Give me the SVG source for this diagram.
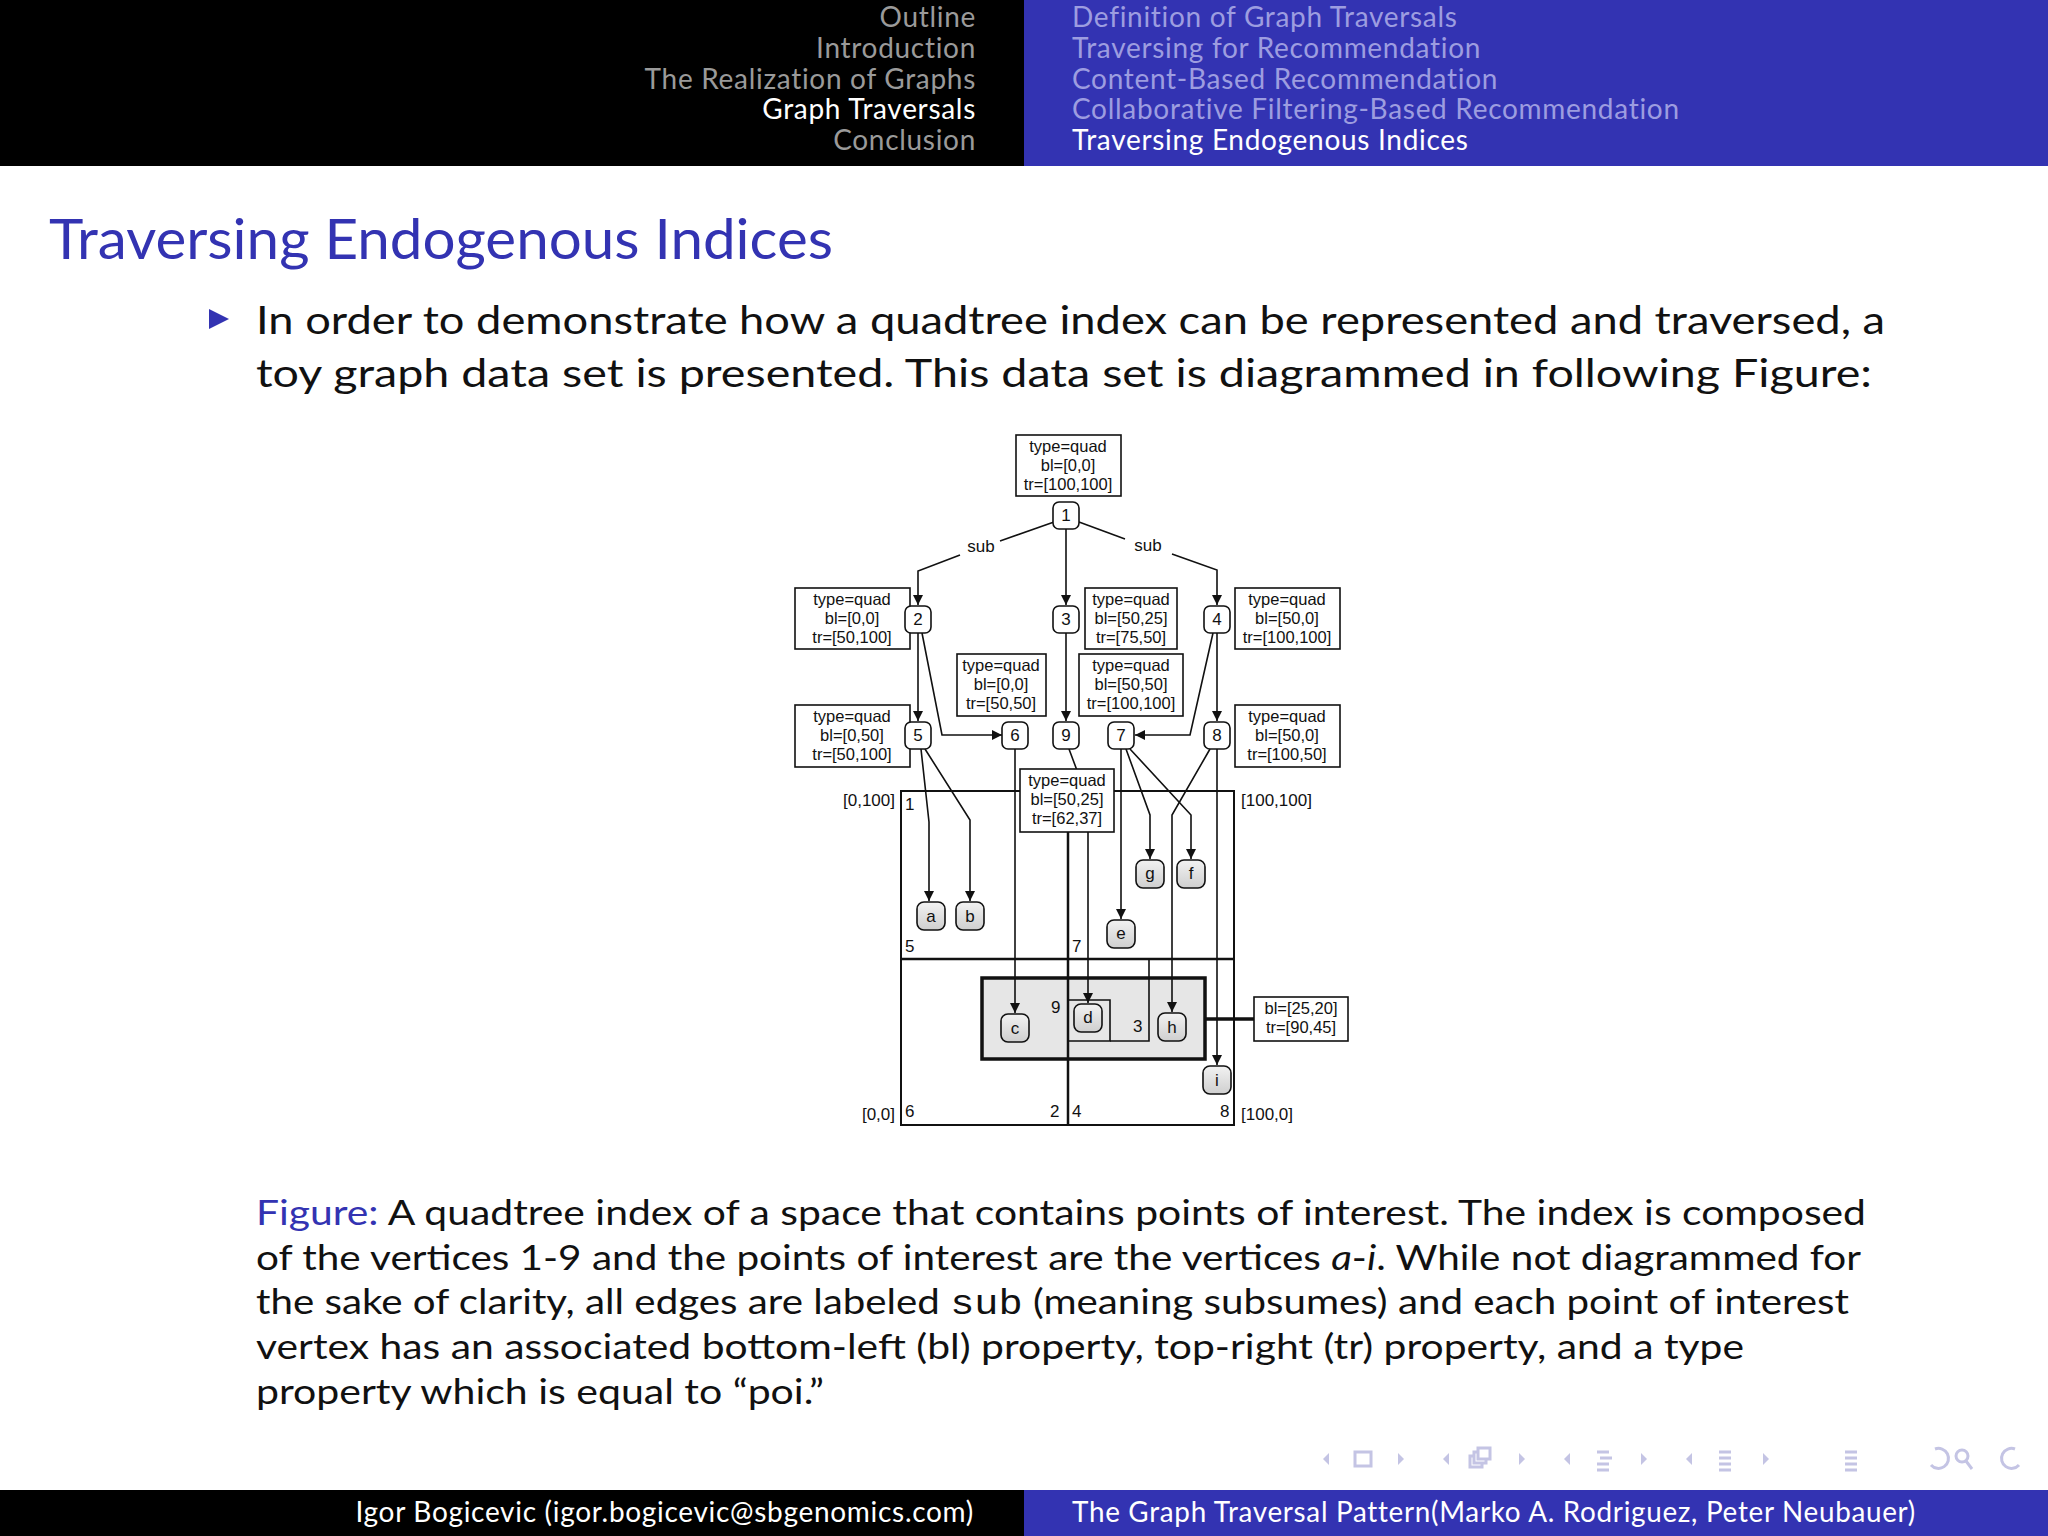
<svg xmlns="http://www.w3.org/2000/svg" width="2048" height="1536" viewBox="0 0 2048 1536">
<style>
.hd{font-family:"Lato","Liberation Sans",sans-serif;font-size:28px;letter-spacing:0.7px}
.t{font-family:"Liberation Sans",Arial,sans-serif;font-size:16.5px;text-anchor:middle;fill:#111}
.s{font-family:"Liberation Sans",Arial,sans-serif;font-size:17px;fill:#111}
.n{font-family:"Liberation Sans",Arial,sans-serif;font-size:17px;text-anchor:middle;fill:#111}
.box{fill:#fff;stroke:#111;stroke-width:1.6}
.nd{fill:#fff;stroke:#111;stroke-width:1.6}
.lf{fill:url(#g);stroke:#111;stroke-width:1.6}
.e{fill:none;stroke:#111;stroke-width:1.6}
.ea{fill:none;stroke:#111;stroke-width:1.6;marker-end:url(#ar)}
.body{font-family:"Lato","Liberation Sans",sans-serif;font-size:39px;fill:#111}
.cap{font-family:"Lato","Liberation Sans",sans-serif;font-size:35px;fill:#111}
.nav{fill:none;stroke:#c4c4e4;stroke-width:3}
</style>
<defs>
<marker id="ar" viewBox="0 0 10 10" refX="10" refY="5" markerWidth="10" markerHeight="10" markerUnits="userSpaceOnUse" orient="auto"><path d="M0,0 L10,5 L0,10 z" fill="#111"/></marker>
<linearGradient id="g" x1="0" y1="0" x2="0" y2="1"><stop offset="0" stop-color="#f2f2f2"/><stop offset="1" stop-color="#cfcfcf"/></linearGradient>
</defs>
<rect width="2048" height="1536" fill="#fff"/>
<!-- header -->
<rect x="0" y="0" width="1024" height="166" fill="#000"/>
<rect x="1024" y="0" width="1024" height="166" fill="#3333b2"/>
<g class="hd" text-anchor="end">
<text x="976" y="27" fill="#9a9a9a">Outline</text>
<text x="976" y="58" fill="#9a9a9a">Introduction</text>
<text x="976" y="89" fill="#9a9a9a">The Realization of Graphs</text>
<text x="976" y="119" fill="#fff">Graph Traversals</text>
<text x="976" y="150" fill="#9a9a9a">Conclusion</text>
</g>
<g class="hd">
<text x="1072" y="27" fill="#9d9de0">Definition of Graph Traversals</text>
<text x="1072" y="58" fill="#9d9de0">Traversing for Recommendation</text>
<text x="1072" y="89" fill="#9d9de0">Content-Based Recommendation</text>
<text x="1072" y="119" fill="#9d9de0">Collaborative Filtering-Based Recommendation</text>
<text x="1072" y="150" fill="#fff">Traversing Endogenous Indices</text>
</g>
<text x="49" y="259" font-family="Lato,'Liberation Sans',sans-serif" font-size="57" fill="#3333b2" textLength="784" lengthAdjust="spacingAndGlyphs">Traversing Endogenous Indices</text>
<path d="M209,309 L229,319 L209,329 z" fill="#3333b2"/>
<text class="body" x="256" y="334" textLength="1629" lengthAdjust="spacingAndGlyphs">In order to demonstrate how a quadtree index can be represented and traversed, a</text>
<text class="body" x="256" y="387" textLength="1616" lengthAdjust="spacingAndGlyphs">toy graph data set is presented.  This data set is diagrammed in following Figure:</text>

<!-- quadtree space -->
<g id="space">
<rect x="982" y="978" width="223" height="81" fill="#e6e6e6" stroke="#111" stroke-width="3.5"/>
<rect x="901" y="791" width="333" height="334" fill="none" stroke="#111" stroke-width="2"/>
<line x1="901" y1="959" x2="1234" y2="959" stroke="#111" stroke-width="2.5"/>
<line x1="1068" y1="800" x2="1068" y2="1125" stroke="#111" stroke-width="2.5"/>
<polyline points="1068,1000 1110,1000 1110,1041 1068,1041" fill="none" stroke="#111" stroke-width="1.6"/>
<polyline points="1149,959 1149,1041 1110,1041" fill="none" stroke="#111" stroke-width="1.6"/>
<line x1="1205" y1="1019" x2="1254" y2="1019" stroke="#111" stroke-width="3.5"/>
<text class="s" x="905" y="810">1</text>
<text class="s" x="905" y="952">5</text>
<text class="s" x="1072" y="952">7</text>
<text class="s" x="905" y="1117">6</text>
<text class="s" x="1050" y="1117">2</text>
<text class="s" x="1072" y="1117">4</text>
<text class="s" x="1220" y="1117">8</text>
<text class="s" x="1051" y="1013">9</text>
<text class="s" x="1133" y="1032">3</text>
<text class="s" x="895" y="806" text-anchor="end">[0,100]</text>
<text class="s" x="1241" y="806">[100,100]</text>
<text class="s" x="895" y="1120" text-anchor="end">[0,0]</text>
<text class="s" x="1241" y="1120">[100,0]</text>
</g>

<g id="connectors">
<polyline class="e" points="1054,522 1000,541"/>
<polyline class="ea" points="960,555 918,571 918,605"/>
<line class="ea" x1="1066" y1="528" x2="1066" y2="605"/>
<polyline class="e" points="1079,522 1125,539"/>
<polyline class="ea" points="1172,554 1217,570 1217,605"/>
<line class="ea" x1="918" y1="633" x2="918" y2="721"/>
<polyline class="ea" points="922,633 942,735 1002,735"/>
<polyline class="ea" points="1213,633 1190,735 1135,735"/>
<line class="ea" x1="1066" y1="633" x2="1066" y2="721"/>
<line class="ea" x1="1217" y1="633" x2="1217" y2="721"/>
<polyline class="ea" points="921,749 929,822 929,901"/>
<polyline class="ea" points="925,749 970,820 970,901"/>
<line class="ea" x1="1015" y1="749" x2="1015" y2="1013"/>
<polyline class="ea" points="1069,749 1088,800 1088,1003"/>
<line class="ea" x1="1121" y1="749" x2="1121" y2="919"/>
<polyline class="ea" points="1126,749 1150,815 1150,859"/>
<polyline class="ea" points="1130,749 1191,815 1191,859"/>
<polyline class="ea" points="1210,749 1172,815 1172,1012"/>
<line class="ea" x1="1217" y1="749" x2="1217" y2="1065"/>
<text class="s" x="981" y="552" text-anchor="middle">sub</text>
<text class="s" x="1148" y="551" text-anchor="middle">sub</text>
</g>

<g id="label-top"><rect class="box" x="1016" y="435" width="105" height="61"/><text class="t" x="1068" y="452">type=quad</text><text class="t" x="1068" y="471">bl=[0,0]</text><text class="t" x="1068" y="490">tr=[100,100]</text></g>
<g id="label-2"><rect class="box" x="795" y="588" width="115" height="61"/><text class="t" x="852" y="605">type=quad</text><text class="t" x="852" y="624">bl=[0,0]</text><text class="t" x="852" y="643">tr=[50,100]</text></g>
<g id="label-3"><rect class="box" x="1085" y="588" width="92" height="61"/><text class="t" x="1131" y="605">type=quad</text><text class="t" x="1131" y="624">bl=[50,25]</text><text class="t" x="1131" y="643">tr=[75,50]</text></g>
<g id="label-4"><rect class="box" x="1235" y="588" width="105" height="61"/><text class="t" x="1287" y="605">type=quad</text><text class="t" x="1287" y="624">bl=[50,0]</text><text class="t" x="1287" y="643">tr=[100,100]</text></g>
<g id="label-6"><rect class="box" x="957" y="654" width="89" height="62"/><text class="t" x="1001" y="671">type=quad</text><text class="t" x="1001" y="690">bl=[0,0]</text><text class="t" x="1001" y="709">tr=[50,50]</text></g>
<g id="label-7"><rect class="box" x="1079" y="654" width="104" height="62"/><text class="t" x="1131" y="671">type=quad</text><text class="t" x="1131" y="690">bl=[50,50]</text><text class="t" x="1131" y="709">tr=[100,100]</text></g>
<g id="label-5"><rect class="box" x="795" y="705" width="115" height="62"/><text class="t" x="852" y="722">type=quad</text><text class="t" x="852" y="741">bl=[0,50]</text><text class="t" x="852" y="760">tr=[50,100]</text></g>
<g id="label-8"><rect class="box" x="1235" y="705" width="105" height="62"/><text class="t" x="1287" y="722">type=quad</text><text class="t" x="1287" y="741">bl=[50,0]</text><text class="t" x="1287" y="760">tr=[100,50]</text></g>
<g id="label-9"><rect class="box" x="1020" y="769" width="94" height="63"/><text class="t" x="1067" y="786">type=quad</text><text class="t" x="1067" y="805">bl=[50,25]</text><text class="t" x="1067" y="824">tr=[62,37]</text></g>
<g id="label-gray"><rect class="box" x="1254" y="997" width="94" height="44"/><text class="t" x="1301" y="1014">bl=[25,20]</text><text class="t" x="1301" y="1033">tr=[90,45]</text></g>

<g id="n1"><rect class="nd" x="1053" y="502" width="26" height="27" rx="6"/><text class="n" x="1066" y="521">1</text></g>
<g id="n2"><rect class="nd" x="905" y="606" width="26" height="27" rx="6"/><text class="n" x="918" y="625">2</text></g>
<g id="n3"><rect class="nd" x="1053" y="606" width="26" height="27" rx="6"/><text class="n" x="1066" y="625">3</text></g>
<g id="n4"><rect class="nd" x="1204" y="606" width="26" height="27" rx="6"/><text class="n" x="1217" y="625">4</text></g>
<g id="n5"><rect class="nd" x="905" y="722" width="26" height="27" rx="6"/><text class="n" x="918" y="741">5</text></g>
<g id="n6"><rect class="nd" x="1002" y="722" width="26" height="27" rx="6"/><text class="n" x="1015" y="741">6</text></g>
<g id="n9"><rect class="nd" x="1053" y="722" width="26" height="27" rx="6"/><text class="n" x="1066" y="741">9</text></g>
<g id="n7"><rect class="nd" x="1108" y="722" width="26" height="27" rx="6"/><text class="n" x="1121" y="741">7</text></g>
<g id="n8"><rect class="nd" x="1204" y="722" width="26" height="27" rx="6"/><text class="n" x="1217" y="741">8</text></g>

<g id="na"><rect class="lf" x="917" y="902" width="28" height="28" rx="7"/><text class="n" x="931" y="922">a</text></g>
<g id="nb"><rect class="lf" x="956" y="902" width="28" height="28" rx="7"/><text class="n" x="970" y="922">b</text></g>
<g id="ng"><rect class="lf" x="1136" y="860" width="28" height="28" rx="7"/><text class="n" x="1150" y="879">g</text></g>
<g id="nf"><rect class="lf" x="1177" y="860" width="28" height="28" rx="7"/><text class="n" x="1191" y="879">f</text></g>
<g id="ne"><rect class="lf" x="1107" y="920" width="28" height="28" rx="7"/><text class="n" x="1121" y="939">e</text></g>
<g id="nc"><rect class="lf" x="1001" y="1014" width="28" height="28" rx="7"/><text class="n" x="1015" y="1034">c</text></g>
<g id="nd"><rect class="lf" x="1074" y="1004" width="28" height="28" rx="7"/><text class="n" x="1088" y="1023">d</text></g>
<g id="nh"><rect class="lf" x="1158" y="1013" width="28" height="28" rx="7"/><text class="n" x="1172" y="1033">h</text></g>
<g id="ni"><rect class="lf" x="1203" y="1066" width="28" height="28" rx="7"/><text class="n" x="1217" y="1086">i</text></g>

<!-- caption -->
<text class="cap" x="256" y="1225" textLength="1610" lengthAdjust="spacingAndGlyphs"><tspan fill="#3333b2">Figure:</tspan> A quadtree index of a space that contains points of interest.  The index is composed</text>
<text class="cap" x="256" y="1270" textLength="1605" lengthAdjust="spacingAndGlyphs">of the vertices 1-9 and the points of interest are the vertices <tspan font-style="italic">a</tspan>-<tspan font-style="italic">i</tspan>. While not diagrammed for</text>
<text class="cap" x="256" y="1314" textLength="1593" lengthAdjust="spacingAndGlyphs">the sake of clarity, all edges are labeled <tspan font-family="'Liberation Mono',monospace">sub</tspan> (meaning subsumes) and each point of interest</text>
<text class="cap" x="256" y="1359" textLength="1488" lengthAdjust="spacingAndGlyphs">vertex has an associated bottom-left (bl) property, top-right (tr) property, and a type</text>
<text class="cap" x="256" y="1404" textLength="568" lengthAdjust="spacingAndGlyphs">property which is equal to “poi.”</text>

<!-- nav -->
<g class="nav">
<path d="M1329,1453 l-6,6 l6,6z" fill="#c4c4e4" stroke="none"/>
<rect x="1355" y="1452" width="16" height="14"/>
<path d="M1398,1453 l6,6 l-6,6z" fill="#c4c4e4" stroke="none"/>
<path d="M1449,1453 l-6,6 l6,6z" fill="#c4c4e4" stroke="none"/>
<rect x="1470" y="1456" width="12" height="11"/><rect x="1474" y="1452" width="12" height="11" fill="#fff"/><rect x="1478" y="1448" width="12" height="11" fill="#fff"/>
<path d="M1519,1453 l6,6 l-6,6z" fill="#c4c4e4" stroke="none"/>
<path d="M1570,1453 l-6,6 l6,6z" fill="#c4c4e4" stroke="none"/>
<path d="M1597,1452 h12 M1600,1458 h12 M1597,1464 h12 M1597,1470 h12"/>
<path d="M1641,1453 l6,6 l-6,6z" fill="#c4c4e4" stroke="none"/>
<path d="M1692,1453 l-6,6 l6,6z" fill="#c4c4e4" stroke="none"/>
<path d="M1719,1452 h12 M1719,1458 h12 M1719,1464 h12 M1719,1470 h12"/>
<path d="M1763,1453 l6,6 l-6,6z" fill="#c4c4e4" stroke="none"/>
<path d="M1845,1452 h12 M1845,1458 h12 M1845,1464 h12 M1845,1470 h12"/>
<path d="M1935,1449 a10,10 0 1 1 -4,16"/>
<circle cx="1962" cy="1456" r="6"/><path d="M1966,1461 l6,8"/>
<path d="M2015,1449 a10,10 0 1 0 4,16"/>
</g>

<!-- footer -->
<rect x="0" y="1490" width="1024" height="46" fill="#000"/>
<rect x="1024" y="1490" width="1024" height="46" fill="#3333b2"/>
<text class="hd" x="974" y="1522" fill="#fff" text-anchor="end">Igor Bogicevic (igor.bogicevic@sbgenomics.com)</text>
<text class="hd" x="1072" y="1522" fill="#fff" textLength="844" lengthAdjust="spacingAndGlyphs">The Graph Traversal Pattern(Marko A. Rodriguez, Peter Neubauer)</text>
</svg>
